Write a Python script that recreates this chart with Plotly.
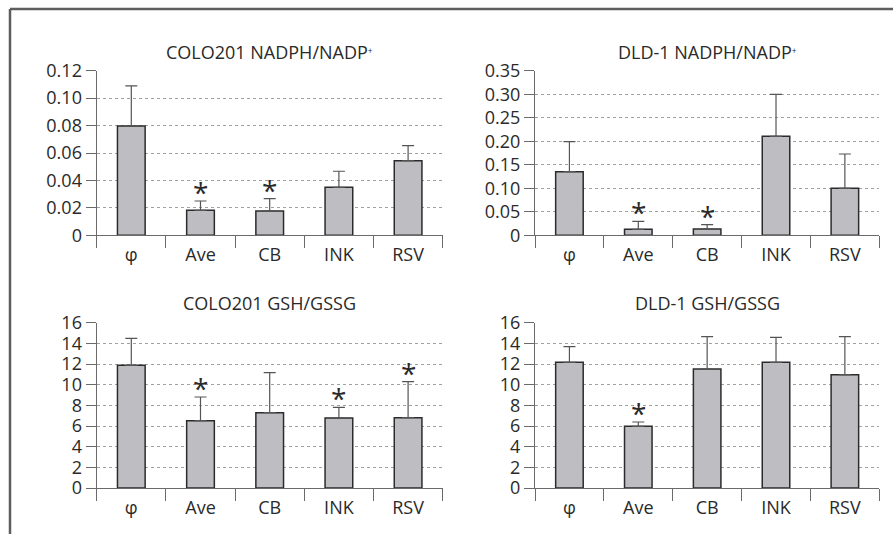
import plotly.graph_objects as go

categories = ["φ", "Ave", "CB", "INK", "RSV"]

colo_nadph = [0.0797, 0.0182, 0.0177, 0.0350, 0.0544]
colo_nadph_err_top = [0.1089, 0.0250, 0.0267, 0.0467, 0.0654]
colo_nadph_sig = [False, True, True, False, False]

dld_nadph = [0.1353, 0.0128, 0.0135, 0.2104, 0.0999]
dld_nadph_err_top = [0.1990, 0.0298, 0.0227, 0.2997, 0.1729]
dld_nadph_sig = [False, True, True, False, False]

colo_gsh = [11.87, 6.52, 7.29, 6.77, 6.81]
colo_gsh_err_top = [14.48, 8.81, 11.16, 7.81, 10.29]
colo_gsh_sig = [False, True, False, True, True]

dld_gsh = [12.16, 5.97, 11.52, 12.16, 10.97]
dld_gsh_err_top = [13.68, 6.39, 14.65, 14.58, 14.65]
dld_gsh_sig = [False, True, False, False, False]

titles = ["COLO201 NADPH/NADP<span style='font-size:12px'><sup>+</sup></span>",
          "DLD-1 NADPH/NADP<span style='font-size:12px'><sup>+</sup></span>",
          "COLO201 GSH/GSSG", "DLD-1 GSH/GSSG"]
y_ranges = [[0, 0.12], [0, 0.35], [0, 16], [0, 16]]
y_tickvals = [
    [0, 0.02, 0.04, 0.06, 0.08, 0.10, 0.12],
    [0, 0.05, 0.10, 0.15, 0.20, 0.25, 0.30, 0.35],
    [0, 2, 4, 6, 8, 10, 12, 14, 16],
    [0, 2, 4, 6, 8, 10, 12, 14, 16],
]
y_ticktext = [
    ["0", "0.02", "0.04", "0.06", "0.08", "0.10", "0.12"],
    ["0", "0.05", "0.10", "0.15", "0.20", "0.25", "0.30", "0.35"],
    ["0", "2", "4", "6", "8", "10", "12", "14", "16"],
    ["0", "2", "4", "6", "8", "10", "12", "14", "16"],
]

panels = [
    (colo_nadph, colo_nadph_err_top, colo_nadph_sig),
    (dld_nadph, dld_nadph_err_top, dld_nadph_sig),
    (colo_gsh, colo_gsh_err_top, colo_gsh_sig),
    (dld_gsh, dld_gsh_err_top, dld_gsh_sig),
]

W, H = 893, 534
# pixel layout of plot areas: (x0, x1, ytop, ybottom)
boxes = [
    (96.7, 442.7, 70.7, 235.3),
    (535.0, 879.3, 70.7, 235.3),
    (96.7, 442.7, 322.7, 488.0),
    (535.0, 879.3, 322.7, 488.0),
]
title_y_px = [52.5, 52.5, 302.5, 302.5]

FONT = "Open Sans, Noto Sans, DejaVu Sans, sans-serif"
TXT = "#2a2a2a"
AXIS = "#6a6a6a"

fig = go.Figure()
layout = dict(
    width=W, height=H,
    margin=dict(l=0, r=0, t=0, b=0, autoexpand=False),
    paper_bgcolor="white", plot_bgcolor="white",
    showlegend=False,
    bargap=0.6,
    font=dict(family=FONT, color=TXT),
)
annotations = []
shapes = []

for i, (vals, tops, sig) in enumerate(panels):
    n = i + 1
    xa = "x" if n == 1 else f"x{n}"
    ya = "y" if n == 1 else f"y{n}"
    err_plus = [t - v for t, v in zip(tops, vals)]
    fig.add_trace(go.Bar(
        x=categories, y=vals, xaxis=xa, yaxis=ya,
        width=0.4,
        marker=dict(color="#bebec2", line=dict(color="#2b2b2b", width=1.5)),
        error_y=dict(type="data", symmetric=False, array=err_plus,
                     arrayminus=[0] * len(vals), color="#555555",
                     thickness=1.2, width=6),
        hoverinfo="skip",
    ))
    x0, x1, yt, yb = boxes[i]
    xdom = [x0 / W, x1 / W]
    ydom = [1 - yb / H, 1 - yt / H]
    layout["xaxis" if n == 1 else f"xaxis{n}"] = dict(
        domain=xdom, anchor=ya, type="category",
        range=[-0.5, 4.5], automargin=False,
        showline=True, linecolor=AXIS, linewidth=1.3,
        ticks="outside", tickson="boundaries", ticklen=12,
        tickcolor=AXIS, tickwidth=1.3,
        showgrid=False, zeroline=False,
        tickfont=dict(family=FONT, size=18, color=TXT),
        ticklabelstandoff=3,
    )
    layout["yaxis" if n == 1 else f"yaxis{n}"] = dict(
        domain=ydom, anchor=xa, automargin=False,
        range=y_ranges[i],
        tickvals=y_tickvals[i], ticktext=y_ticktext[i],
        showline=True, linecolor=AXIS, linewidth=1.3,
        ticks="outside", ticklen=10, tickcolor=AXIS, tickwidth=1.3,
        showgrid=True, gridcolor="#a0a0a0", griddash="dot", gridwidth=1,
        zeroline=False,
        tickfont=dict(family=FONT, size=18, color=TXT),
    )
    annotations.append(dict(
        xref="paper", yref="paper",
        x=(x0 + x1) / 2 / W, y=1 - title_y_px[i] / H,
        xanchor="center", yanchor="middle",
        text=titles[i], showarrow=False,
        font=dict(family=FONT, size=18, color=TXT),
    ))
    for c, t, s in zip(categories, tops, sig):
        if s:
            annotations.append(dict(
                xref=xa, yref=ya, x=c, y=t,
                xanchor="center", yanchor="bottom",
                text="*", showarrow=False, yshift=-12,
                font=dict(family=FONT, size=28, color=TXT),
            ))

# outer frame (top and left edges)
shapes.append(dict(type="line", xref="paper", yref="paper",
                   x0=10 / W, x1=1.0, y0=1 - 9 / H, y1=1 - 9 / H,
                   line=dict(color="#5e5e5e", width=2.5)))
shapes.append(dict(type="line", xref="paper", yref="paper",
                   x0=10 / W, x1=10 / W, y0=1 - 9 / H, y1=0,
                   line=dict(color="#5e5e5e", width=2.5)))

layout["annotations"] = annotations
layout["shapes"] = shapes
fig.update_layout(**layout)
fig.write_html("out.html")
